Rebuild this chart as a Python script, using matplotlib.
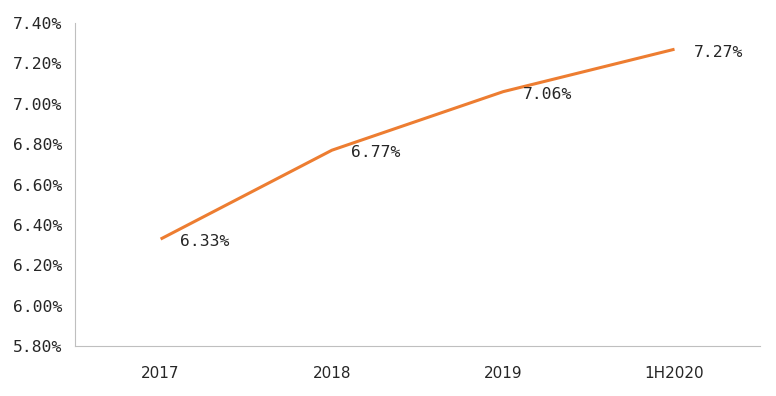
import matplotlib
matplotlib.use('Agg')
import matplotlib.pyplot as plt
from matplotlib.ticker import FuncFormatter

categories = ['2017', '2018', '2019', '1H2020']
rates = [6.33, 6.77, 7.06, 7.27]
labels = ['6.33%', '6.77%', '7.06%', '7.27%']

fig = plt.figure(figsize=(7.76, 3.96), dpi=100)
ax = fig.add_axes([0.0966, 0.126, 0.883, 0.816])

x = range(len(categories))
ax.plot(x, rates, color='#ED7D31', linewidth=2.2, solid_capstyle='butt')

for i, (v, lab) in enumerate(zip(rates, labels)):
    ax.annotate(lab, (i, v), xytext=(14, -2), textcoords='offset points',
                ha='left', va='center', fontsize=11.8, color='#262626',
                family='DejaVu Sans Mono')

ax.set_xlim(-0.5, len(categories) - 0.5)
ax.set_ylim(5.8, 7.4)
ax.set_yticks([5.8, 6.0, 6.2, 6.4, 6.6, 6.8, 7.0, 7.2, 7.4])
ax.yaxis.set_major_formatter(FuncFormatter(lambda v, p: '%.2f%%' % v))
ax.set_xticks(list(x))
ax.set_xticklabels(categories)

for lab in ax.get_yticklabels():
    lab.set_family('DejaVu Sans Mono')
    lab.set_fontsize(11.8)
    lab.set_color('#262626')
for lab in ax.get_xticklabels():
    lab.set_fontsize(11)
    lab.set_color('#262626')

ax.spines['top'].set_visible(False)
ax.spines['right'].set_visible(False)
ax.spines['left'].set_color('#BFBFBF')
ax.spines['bottom'].set_color('#BFBFBF')
ax.tick_params(axis='both', length=0)
ax.tick_params(axis='y', pad=9)
ax.tick_params(axis='x', pad=14)

fig.savefig('out.png', dpi=100)
